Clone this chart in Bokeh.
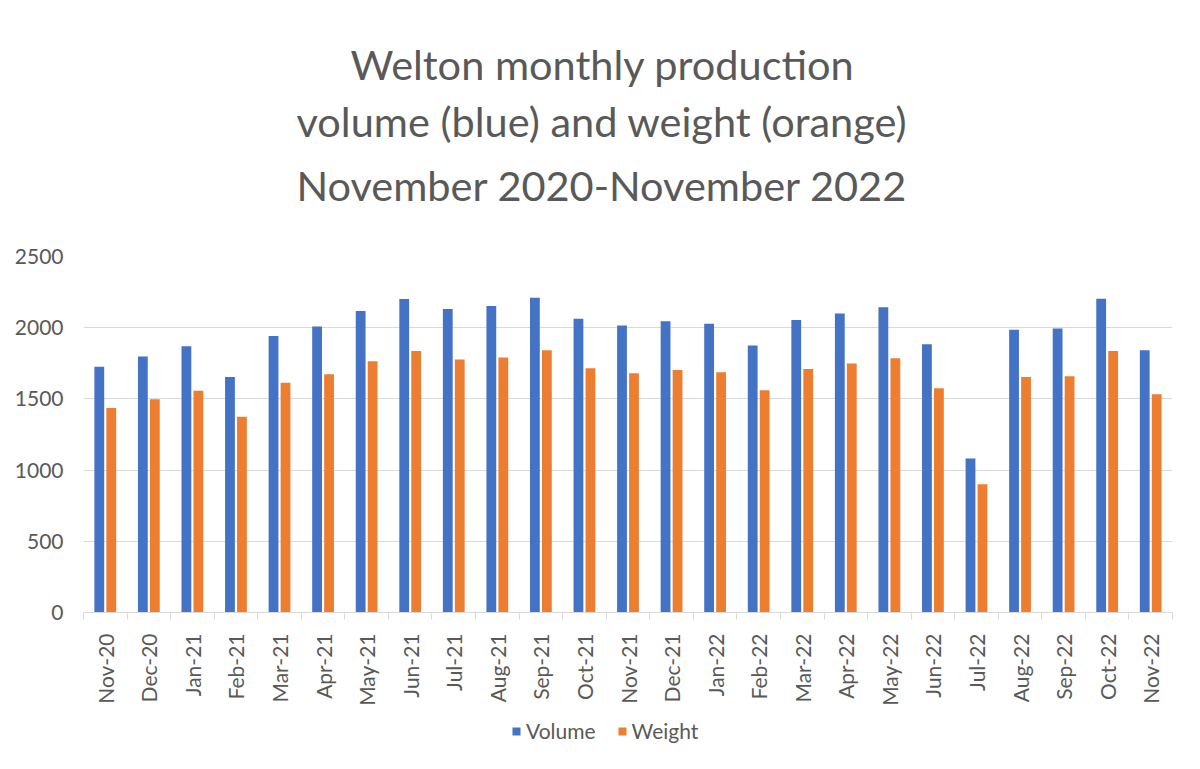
from bokeh.plotting import figure
from bokeh.models import Range1d, FixedTicker, Title, Legend, LegendItem, ColumnDataSource
from bokeh.layouts import column
from bokeh.embed import file_html
from bokeh.resources import INLINE
import numpy as np

months = ["Nov-20", "Dec-20", "Jan-21", "Feb-21", "Mar-21", "Apr-21", "May-21", "Jun-21",
          "Jul-21", "Aug-21", "Sep-21", "Oct-21", "Nov-21", "Dec-21", "Jan-22", "Feb-22",
          "Mar-22", "Apr-22", "May-22", "Jun-22", "Jul-22", "Aug-22", "Sep-22", "Oct-22", "Nov-22"]
volume = [1725, 1797, 1870, 1654, 1941, 2009, 2117, 2202, 2131, 2152, 2211, 2063, 2016,
          2046, 2028, 1875, 2054, 2100, 2143, 1884, 1081, 1985, 1995, 2204, 1842]
weight = [1436, 1497, 1558, 1375, 1614, 1673, 1765, 1837, 1776, 1790, 1842, 1715, 1680,
          1703, 1687, 1560, 1710, 1748, 1786, 1574, 900, 1654, 1659, 1837, 1532]
y_ticks = [0, 500, 1000, 1500, 2000, 2500]
title_lines = ["Welton monthly production", "volume (blue) and weight (orange)",
               "November 2020-November 2022"]

FONT = "Lato"
GRAY = "#595959"
BLUE = "#4472C4"
ORANGE = "#ED7D31"

n = len(months)
centers = np.arange(n) + 0.5
src = ColumnDataSource(dict(xv=centers - 0.1375, xw=centers + 0.1375, volume=volume, weight=weight))

p = figure(frame_width=1089, frame_height=356, output_backend="svg", toolbar_location=None,
           x_range=Range1d(0, n), y_range=Range1d(0, 2500),
           min_border_left=83, min_border_right=20, min_border_top=256, min_border_bottom=106)
p.outline_line_color = None
p.background_fill_color = "white"
p.border_fill_color = "white"

rv = p.vbar(x="xv", top="volume", width=0.225, source=src, color=BLUE, line_color=None)
rw = p.vbar(x="xw", top="weight", width=0.225, source=src, color=ORANGE, line_color=None)

# axes
p.xaxis.ticker = FixedTicker(ticks=list(centers), minor_ticks=list(range(n + 1)))
p.xaxis.major_label_overrides = {float(c): m for c, m in zip(centers, months)}
p.xaxis.major_label_orientation = np.pi / 2
p.xaxis.major_tick_line_color = None
p.xaxis.major_tick_out = 0
p.xaxis.major_tick_in = 0
p.xaxis.minor_tick_line_color = "#d9d9d9"
p.xaxis.minor_tick_out = 7
p.xaxis.minor_tick_in = 0
p.xaxis.axis_line_color = "#d9d9d9"
p.xaxis.major_label_standoff = 14
p.xaxis.major_label_text_font = FONT
p.xaxis.major_label_text_font_size = "21px"
p.xaxis.major_label_text_color = GRAY

p.yaxis.ticker = FixedTicker(ticks=y_ticks)
p.yaxis.axis_line_color = None
p.yaxis.major_tick_line_color = None
p.yaxis.minor_tick_line_color = None
p.yaxis.major_tick_out = 0
p.yaxis.major_label_standoff = 20
p.yaxis.major_label_text_font = FONT
p.yaxis.major_label_text_font_size = "21px"
p.yaxis.major_label_text_color = GRAY

p.xgrid.grid_line_color = None
p.ygrid.grid_line_color = "#d9d9d9"
p.ygrid.ticker = FixedTicker(ticks=y_ticks)

# spacer between title and plot, then title lines (added bottom line first)
p.add_layout(Title(text=" ", text_font_size="31.5px", standoff=0), "above")
standoffs = [17, 7, 3]
offsets = [213, 213, 267]
for line, so, off in zip(reversed(title_lines), standoffs, offsets):
    t = Title(text=line, align="left", text_font=FONT, text_font_size="41.5px",
              text_color=GRAY, text_font_style="normal", standoff=so, offset=off)
    p.add_layout(t, "above")

# legend strip below the chart: same series, drawn outside its visible range
leg = figure(width=1192, height=51, output_backend="svg", toolbar_location=None,
             x_axis_type=None, y_axis_type=None, min_border=0,
             x_range=Range1d(0, n), y_range=Range1d(5000, 6000))
leg.outline_line_color = None
leg.background_fill_color = "white"
leg.border_fill_color = "white"
lv = leg.vbar(x="xv", top="volume", width=0.225, source=src, color=BLUE, line_color=None)
lw = leg.vbar(x="xw", top="weight", width=0.225, source=src, color=ORANGE, line_color=None)

legend = Legend(items=[LegendItem(label="Volume", renderers=[lv]),
                       LegendItem(label="Weight", renderers=[lw])],
                orientation="horizontal", location=(428, 26),
                glyph_width=10, glyph_height=10, label_standoff=5, spacing=21,
                label_text_font=FONT, label_text_font_size="21px", label_text_color=GRAY,
                border_line_color=None, background_fill_alpha=0, margin=0, padding=4)
leg.add_layout(legend, "center")

layout = column(p, leg, spacing=0)
open("out.html", "w").write(file_html(layout, INLINE))
